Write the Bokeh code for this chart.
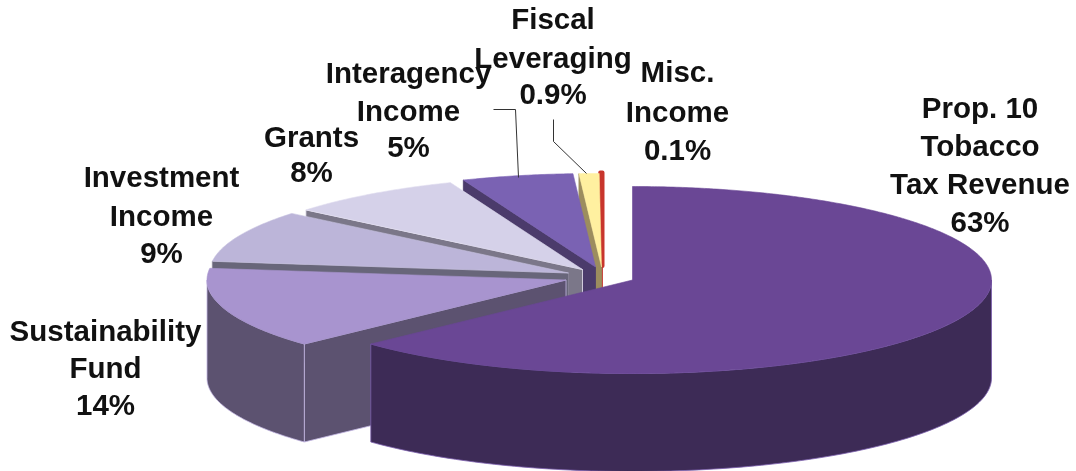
import numpy as np
from bokeh.plotting import figure
from bokeh.embed import file_html
from bokeh.resources import INLINE
from bokeh.core.properties import value

# data
names = ["Prop. 10 Tobacco Tax Revenue", "Sustainability Fund", "Investment Income", "Grants",
         "Interagency Income", "Fiscal Leveraging", "Misc. Income"]
shares = [63, 14, 9, 8, 5, 0.9, 0.1]

# style
top_colors = ["#6a4795", "#a894cf", "#bcb5d9", "#d5d1e9", "#7a62b3", "#fff0a0", "#c8352c"]
wall_colors = ["#3d2b56", "#5c5270", "#68667a", "#7b7789", "#4b3b6b", "#9c8d5e", "#a02a24"]
wall_edges = ["#7c5fae", "#c3b6e3", "#8a8799", "#ece9f5", "#4b3b6b", "#9c8d5e", "#c8352c"]
top_edges = ["#6a4795", "#a894cf", "#c8c2e0", "#e0ddf0", "#7a62b3", "#fff0a0", "#c8352c"]
offsets = [(0, 0), (-66.5, 0), (-64, -7), (-50, -10.5), (-37, -13), (-31, -13), (-30, -14)]
edge_w = [0.6, 0.6, 0.6, 0.6, 0.6, 0.5, 4]
CX, CY, A, B, D = 632, 279.5, 359, 93.5, 98

label_lines = [["Prop. 10", "Tobacco", "Tax Revenue", "63%"], ["Sustainability", "Fund", "14%"],
               ["Investment", "Income", "9%"], ["Grants", "8%"], ["Interagency", "Income", "5%"],
               ["Fiscal", "Leveraging", "0.9%"], ["Misc.", "Income", "0.1%"]]
label_x = [979.5, 105, 161, 311, 408, 552.5, 677]
label_y = [[107, 145, 183, 221], [330, 367, 404], [176, 215, 252], [136, 171], [72, 110, 146],
           [18, 57, 93], [71, 111, 149]]
leaders_x = [[493, 515, 518], [553, 553, 586]]
leaders_y = [[109, 109, 177], [119, 141, 173]]

p = figure(width=1076, height=471, x_range=(0, 1076), y_range=(471, 0), output_backend="svg",
           toolbar_location=None, min_border=0, outline_line_color=None,
           background_fill_color="white", border_fill_color="white",
           styles={"position": "fixed", "left": "0", "top": "0"})
p.axis.visible = False
p.grid.visible = False


def pt(theta, off):
    t = np.radians(theta)
    return CX + off[0] + A * np.sin(t), CY + off[1] - B * np.cos(t)


starts = np.concatenate([[0], np.cumsum(shares)[:-1]]) * 3.6
ends = np.cumsum(shares) * 3.6
# paint from the back slice to the front one; the large slice comes last
for i in list(range(len(shares) - 1, -1, -1)):
    th0, th1, off = starts[i], ends[i], offsets[i]
    ax, ay = CX + off[0], CY + off[1]
    # radial cut face at the start edge (faces the viewer for left-hand slices)
    if i > 0:
        sx, sy = pt(th0, off)
        p.patch([sx, ax, ax, sx], [sy, ay, ay + D, sy + D], fill_color=wall_colors[i],
                line_color=wall_edges[i], line_width=0.8)
    # outer curved wall, front half only
    lo, hi = max(th0, 90), min(th1, 270)
    if hi > lo:
        th = np.linspace(lo, hi, 120)
        xs, ys = pt(th, off)
        p.patch(np.r_[xs, xs[::-1]], np.r_[ys, ys[::-1] + D], fill_color=wall_colors[i],
                line_color=wall_edges[i], line_width=0.8)
    # top face
    th = np.linspace(th0, th1, max(int(th1 - th0) * 2, 4))
    xs, ys = pt(th, off)
    p.patch(np.r_[ax, xs], np.r_[ay, ys], fill_color=top_colors[i],
            line_color=top_edges[i], line_width=edge_w[i], line_join="round")

p.multi_line(leaders_x, leaders_y, line_color="#333333", line_width=1)

tx, ty, tt = [], [], []
for lx, ys, lines in zip(label_x, label_y, label_lines):
    for y, s in zip(ys, lines):
        tx.append(lx); ty.append(y); tt.append(s)
p.text(tx, ty, text=tt, text_font=value("Liberation Sans"), text_font_style="bold",
       text_font_size="29.5px", text_align="center", text_baseline="middle", text_color="#111111")

open("out.html", "w").write(file_html(p, INLINE))
